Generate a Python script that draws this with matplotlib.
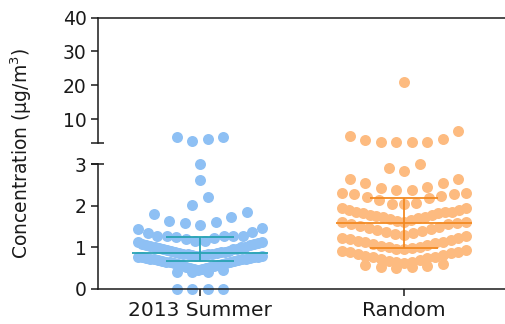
import numpy as np
import matplotlib
matplotlib.use("Agg")
import matplotlib.pyplot as plt
from matplotlib.transforms import blended_transform_factory

# ---------------- data ----------------
categories = ["2013 Summer", "Random"]

summer_values = [
    4.7, 4.1, 3.5, 4.7,
    3.0, 2.62, 2.21, 2.02, 1.85, 1.80, 1.73, 1.63, 1.61,
    1.58, 1.53, 1.46, 1.44, 1.37, 1.34, 1.27, 1.27, 1.27, 1.27, 1.27, 1.25,
    0.88, 0.89, 0.90, 0.91, 0.92, 0.93, 0.95, 0.96, 0.97, 0.98, 1.00, 1.01, 1.02,
    1.04, 1.05, 1.06, 1.08, 1.09, 1.10, 1.12, 1.13, 1.15, 1.16, 1.19, 1.23,
    0.67, 0.68, 0.69, 0.70, 0.71, 0.72, 0.72, 0.73, 0.74, 0.75, 0.76, 0.77, 0.77,
    0.78, 0.79, 0.80, 0.80, 0.81, 0.82, 0.83, 0.84, 0.84, 0.85, 0.86, 0.87,
    0.45, 0.46, 0.47, 0.48, 0.50, 0.51, 0.52, 0.54, 0.55, 0.57, 0.58, 0.60,
    0.61, 0.62, 0.63, 0.64, 0.65, 0.66,
    0.41, 0.41, 0.41,
    0.0, 0.0, 0.0, 0.0,
]

random_values = [
    20.9, 6.5, 5.0, 4.0, 3.8, 3.3, 3.3, 3.3, 3.1, 3.0,
    2.90, 2.83, 2.64, 2.64,
    2.54, 2.54, 2.45, 2.42, 2.38, 2.38, 2.30, 2.30, 2.28, 2.28, 2.23, 2.20, 2.18,
    2.14, 2.06, 2.03, 2.03, 1.95, 1.95, 1.90, 1.90, 1.86, 1.86, 1.84, 1.83, 1.82,
    1.78, 1.78, 1.76, 1.74, 1.72, 1.70, 1.68, 1.66, 1.64, 1.62, 1.61, 1.60, 1.59,
    1.57, 1.55, 1.52, 1.50, 1.47, 1.45, 1.42, 1.40, 1.37, 1.34, 1.31, 1.29, 1.27,
    1.22, 1.22, 1.20, 1.18, 1.15, 1.14, 1.12, 1.10, 1.08, 1.06, 1.04, 1.02, 1.00,
    0.98, 0.96, 0.95, 0.93, 0.92, 0.90, 0.88, 0.86, 0.84, 0.82, 0.80, 0.78, 0.76,
    0.74, 0.72, 0.70, 0.68, 0.66, 0.64, 0.62, 0.60, 0.58, 0.56, 0.54, 0.52, 0.50,
]

bottom_ticks = [0, 1, 2, 3]
top_ticks = [10, 20, 30, 40]
break_value = 3
top_max = 40

dot_colors = ["#8ec0f4", "#fdbb80"]
bar_colors = ["#27a3b3", "#f28a22"]

# ---------------- layout ----------------
W, H = 505, 324
fig = plt.figure(figsize=(W / 100, H / 100), dpi=100)

def rect(x0, y0, x1, y1):
    return [x0 / W, 1 - y1 / H, (x1 - x0) / W, (y1 - y0) / H]

left_px, right_px = 97.7, 505
ax_top = fig.add_axes(rect(left_px, 17.7, right_px, 142.7))
ax_bot = fig.add_axes(rect(left_px, 164, right_px, 289))

px_per_x = 204.0
cat_px = 200.0
xlim = (-(cat_px - left_px) / px_per_x, (right_px - cat_px) / px_per_x)

bot_scale = 125.0 / break_value           # px per unit
top_scale = 125.0 / (top_max - break_value)

row_h = 13.75      # px
max_w = 124.0      # px
max_sp = 15.5      # px
dot_px = 11.0
s_marker = (dot_px * 72 / 100) ** 2

def swarm_offsets(vals, scale):
    vals = np.asarray(vals, dtype=float)
    order = np.argsort(-vals)
    offs = np.zeros(len(vals))
    i = 0
    while i < len(order):
        start = vals[order[i]]
        row = [order[i]]
        j = i + 1
        while j < len(order) and (start - vals[order[j]]) * scale <= row_h:
            row.append(order[j])
            j += 1
        n = len(row)
        sp = max_sp if n < 2 else min(max_sp, max_w / (n - 1))
        pos = [(k - (n - 1) / 2) * sp for k in range(n)]
        pos_order = sorted(range(n), key=lambda k: (abs(pos[k]), pos[k]))
        row_sorted = sorted(row, key=lambda idx: vals[idx])
        for idx, pk in zip(row_sorted, pos_order):
            offs[idx] = pos[pk]
        i = j
    return offs / px_per_x

groups = [summer_values, random_values]
for gi, vals in enumerate(groups):
    vals = np.asarray(vals, dtype=float)
    lo = vals[vals <= break_value]
    hi = vals[vals > break_value]
    xo_lo = swarm_offsets(lo, bot_scale)
    xo_hi = swarm_offsets(hi, top_scale)
    ax_bot.scatter(gi + xo_lo, lo, s=s_marker, color=dot_colors[gi],
                   linewidths=0, zorder=2, clip_on=False)
    ax_top.scatter(gi + xo_hi, hi, s=s_marker, color=dot_colors[gi],
                   linewidths=0, zorder=2, clip_on=False)
    q1, med, q3 = np.percentile(vals, [25, 50, 75], method="weibull")
    c = bar_colors[gi]
    ax_bot.hlines(med, gi - 0.333, gi + 0.333, color=c, lw=1.3, zorder=3)
    ax_bot.hlines([q1, q3], gi - 0.165, gi + 0.165, color=c, lw=1.3, zorder=3)
    ax_bot.vlines(gi, q1, q3, color=c, lw=1.3, zorder=3)

axis_color = "#1a1a1a"
tick_len = 5.0
for ax in (ax_top, ax_bot):
    ax.set_xlim(*xlim)
    ax.set_facecolor("none")
    for sp in ax.spines.values():
        sp.set_color(axis_color)
        sp.set_linewidth(1.1)
    ax.tick_params(axis="both", colors=axis_color, length=tick_len, width=1.1,
                   direction="out", labelsize=13.5, pad=3)

ax_bot.set_ylim(0, break_value)
ax_bot.set_yticks(bottom_ticks)
ax_bot.set_xticks(range(len(categories)))
ax_bot.set_xticklabels(categories, fontsize=14.5)
ax_bot.tick_params(axis="x", pad=4)
ax_bot.spines["top"].set_visible(False)
ax_bot.spines["right"].set_visible(False)

ax_top.set_ylim(break_value, top_max)
ax_top.set_yticks(top_ticks)
ax_top.set_xticks([])
ax_top.spines["bottom"].set_visible(False)
ax_top.spines["right"].set_visible(False)

# break marks crossing the left spine
for ax, yfrac in ((ax_top, 0.0), (ax_bot, 1.0)):
    axw = ax.get_position().width * W
    ax.plot([-7 / axw, 6.5 / axw], [yfrac, yfrac], transform=ax.transAxes,
            color=axis_color, lw=1.1, clip_on=False, solid_capstyle="butt")

fig.text(21 / W, 1 - 153 / H, "Concentration (μg/m$^3$)", rotation=90,
         ha="center", va="center", fontsize=13.5, color=axis_color)

fig.savefig("out.png", dpi=100)
